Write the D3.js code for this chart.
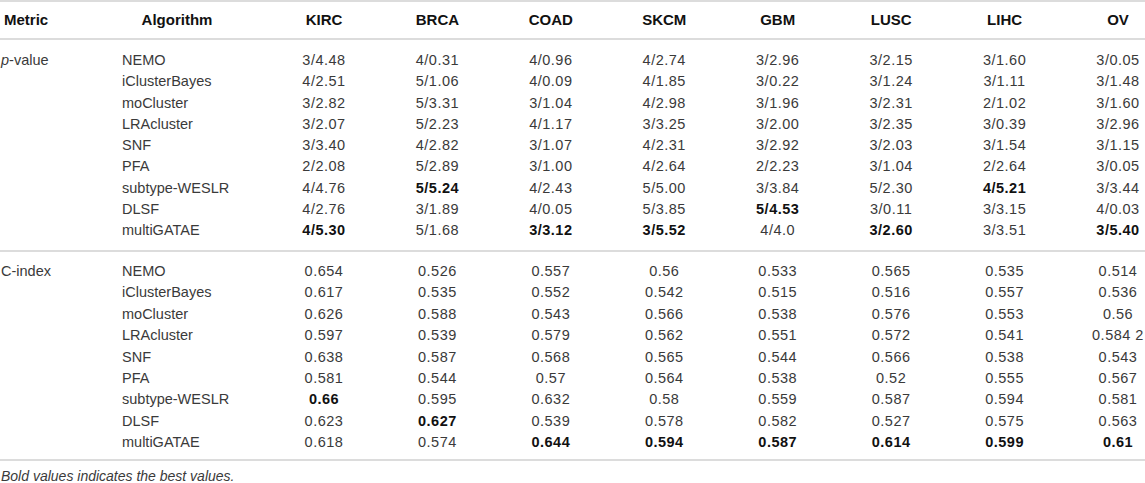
<!DOCTYPE html>
<html><head><meta charset="utf-8">
<script src="https://cdn.jsdelivr.net/npm/d3@7"></script>
<style>
html,body{margin:0;padding:0;background:#fff;}
text{font-family:"Liberation Sans",Arial,Helvetica,sans-serif;}
</style></head>
<body>
<svg id="chart" width="1145" height="483"></svg>
<script>
const datasets = ["KIRC","BRCA","COAD","SKCM","GBM","LUSC","LIHC","OV"];
const algorithms = ["NEMO","iClusterBayes","moCluster","LRAcluster","SNF","PFA","subtype-WESLR","DLSF","multiGATAE"];
const pValues = [
  ["3/4.48","4/0.31","4/0.96","4/2.74","3/2.96","3/2.15","3/1.60","3/0.05"],
  ["4/2.51","5/1.06","4/0.09","4/1.85","3/0.22","3/1.24","3/1.11","3/1.48"],
  ["3/2.82","5/3.31","3/1.04","4/2.98","3/1.96","3/2.31","2/1.02","3/1.60"],
  ["3/2.07","5/2.23","4/1.17","3/3.25","3/2.00","3/2.35","3/0.39","3/2.96"],
  ["3/3.40","4/2.82","3/1.07","4/2.31","3/2.92","3/2.03","3/1.54","3/1.15"],
  ["2/2.08","5/2.89","3/1.00","4/2.64","2/2.23","3/1.04","2/2.64","3/0.05"],
  ["4/4.76","5/5.24","4/2.43","5/5.00","3/3.84","5/2.30","4/5.21","3/3.44"],
  ["4/2.76","3/1.89","4/0.05","5/3.85","5/4.53","3/0.11","3/3.15","4/0.03"],
  ["4/5.30","5/1.68","3/3.12","3/5.52","4/4.0","3/2.60","3/3.51","3/5.40"]
];
// row index of the best (bold) value per dataset
const pBest = [8,6,8,8,7,8,6,8];
const cIndex = [
  ["0.654","0.526","0.557","0.56","0.533","0.565","0.535","0.514"],
  ["0.617","0.535","0.552","0.542","0.515","0.516","0.557","0.536"],
  ["0.626","0.588","0.543","0.566","0.538","0.576","0.553","0.56"],
  ["0.597","0.539","0.579","0.562","0.551","0.572","0.541","0.584 2"],
  ["0.638","0.587","0.568","0.565","0.544","0.566","0.538","0.543"],
  ["0.581","0.544","0.57","0.564","0.538","0.52","0.555","0.567"],
  ["0.66","0.595","0.632","0.58","0.559","0.587","0.594","0.581"],
  ["0.623","0.627","0.539","0.578","0.582","0.527","0.575","0.563"],
  ["0.618","0.574","0.644","0.594","0.587","0.614","0.599","0.61"]
];
const cBest = [6,7,8,8,8,8,8,8];
const footnote = "Bold values indicates the best values.";

const svg = d3.select("#chart");
const W = 1145;
const textColor = "#3a3a3a", boldColor = "#111", lineColor = "#dcdcdc";

const x = d3.scalePoint().domain(datasets).range([324, 1118]);
const yP = d3.scaleLinear().domain([0, 8]).range([60, 230]);
const yC = d3.scaleLinear().domain([0, 8]).range([271, 442]);

// horizontal rules
[1, 39, 251, 460].forEach(y => {
  svg.append("line").attr("x1",0).attr("x2",W).attr("y1",y).attr("y2",y)
    .attr("stroke",lineColor).attr("stroke-width",2);
});

// header
const hdr = svg.append("g").attr("font-weight","bold").attr("font-size",15).attr("fill",boldColor);
hdr.append("text").attr("x",4).attr("y",20).attr("dy","0.35em").text("Metric");
hdr.append("text").attr("x",177).attr("y",20).attr("dy","0.35em").attr("text-anchor","middle").text("Algorithm");
hdr.selectAll("text.ds").data(datasets).join("text").attr("class","ds")
  .attr("x",d=>x(d)).attr("y",20).attr("dy","0.35em").attr("text-anchor","middle").text(d=>d);

function block(yScale, values, best, label) {
  const g = svg.append("g").attr("font-size",14.5).attr("fill",textColor);
  const lt = g.append("text").attr("x",1).attr("y",yScale(0)).attr("dy","0.35em");
  label(lt);
  g.selectAll("text.alg").data(algorithms).join("text").attr("class","alg")
    .attr("x",122).attr("y",(d,i)=>yScale(i)).attr("dy","0.35em").text(d=>d);
  values.forEach((row, r) => {
    g.selectAll(null).data(row).join("text")
      .attr("x",(d,c)=>x(datasets[c])).attr("y",yScale(r)).attr("dy","0.35em")
      .attr("text-anchor","middle")
      .attr("letter-spacing",0.5)
      .attr("font-weight",(d,c)=>best[c]===r?"bold":"normal")
      .attr("fill",(d,c)=>best[c]===r?boldColor:textColor)
      .text(d=>d);
  });
}
block(yP, pValues, pBest, t => { t.append("tspan").attr("font-style","italic").text("p"); t.append("tspan").text("-value"); });
block(yC, cIndex, cBest, t => t.text("C-index"));

svg.append("text").attr("x",1).attr("y",476).attr("dy","0.35em")
  .attr("font-size",14).attr("font-style","italic").attr("fill",textColor).text(footnote);
</script>
</body></html>
